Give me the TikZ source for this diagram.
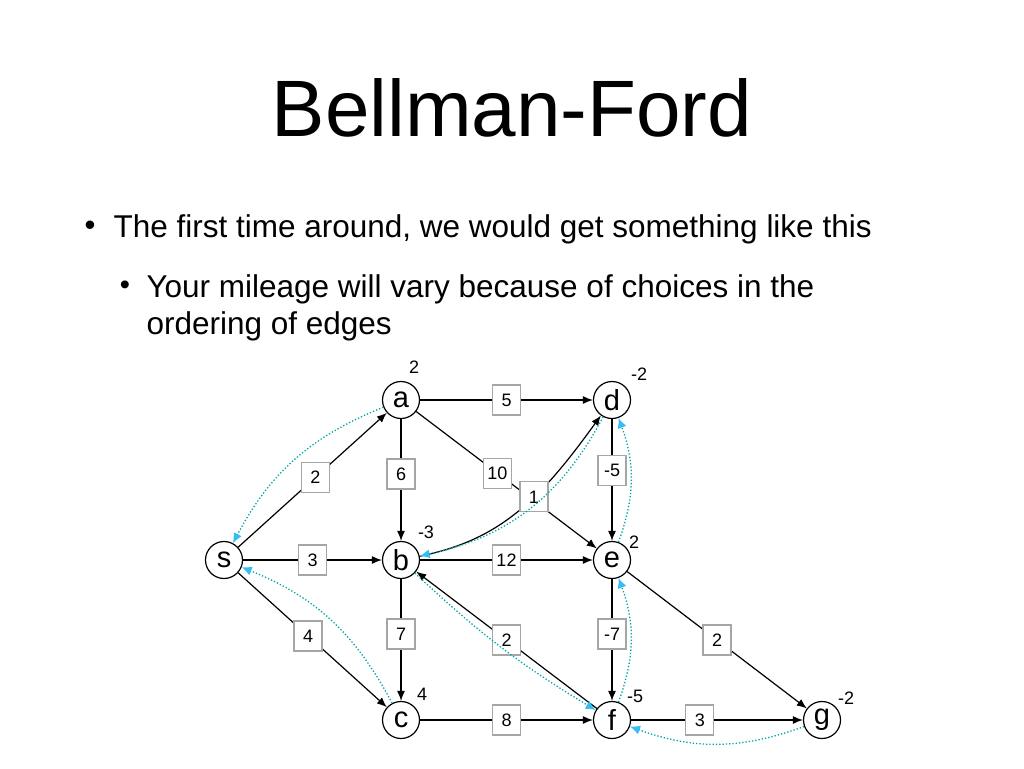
\documentclass[tikz,border=0pt]{standalone}
\usepackage{fontspec}
\setmainfont{Liberation Sans}
\usetikzlibrary{arrows.meta}
\begin{document}
\begin{tikzpicture}[x=1pt,y=-1pt,
  vx/.style={circle,draw,line width=1.2pt,minimum size=37pt,inner sep=0pt,font=\fontsize{29}{29}\selectfont,fill=white},
  wt/.style={draw=black!35,fill=white,minimum width=28pt,minimum height=30pt,inner sep=1pt,font=\fontsize{18}{18}\selectfont},
  ed/.style={line width=1.2pt,-{Latex[length=10pt,width=8pt]}},
  pr/.style={dotted,line width=1.3pt,draw=teal!70!cyan,arrows={-{Latex[length=10pt,width=9pt,color=cyan!80]}}},
  dl/.style={font=\fontsize{18}{18}\selectfont}]
\useasboundingbox (0,0) rectangle (1024,768);
\node[font=\fontsize{80}{80}\selectfont] (title) at (512,108) {Bellman-Ford};
\node[font=\fontsize{31}{31}\selectfont] (b1) at (90,228) {•};
\node[anchor=west,font=\fontsize{31.5}{31.5}\selectfont] (t1) at (110,229) {The first time around, we would get something like this};
\node[font=\fontsize{29}{29}\selectfont] (b2) at (125,288) {•};
\node[anchor=west,align=left,font=\fontsize{31.5}{37}\selectfont] (t2) at (143,308) {Your mileage will vary because of choices in the\\ordering of edges};
\node[vx] (a) at (401,400) {a};
\node[vx] (d) at (612,400) {d};
\node[vx] (s) at (224,560) {s};
\node[vx] (b) at (401,560) {b};
\node[vx] (e) at (612,560) {e};
\node[vx] (c) at (401,720) {c};
\node[vx] (f) at (612,720) {f};
\node[vx] (g) at (822,720) {g};
\node[dl] (la) at (414,367) {2};
\node[dl] (ld) at (639,374) {-2};
\node[dl] (lb) at (426,532) {-3};
\node[dl] (le) at (634,542) {2};
\node[dl] (lc) at (422,694) {4};
\node[dl] (lf) at (635,696) {-5};
\node[dl] (lg) at (846,698) {-2};
\draw[ed] (s) -- node[wt,pos=0.52]{2} (a);
\draw[ed] (s) -- node[wt]{3} (b);
\draw[ed] (s) -- node[wt,pos=0.47]{4} (c);
\draw[ed] (a) -- node[wt]{5} (d);
\draw[ed] (a) -- node[wt,pos=0.45]{6} (b);
\draw[ed] (a) -- node[wt,pos=0.45]{10} (e);
\draw[ed] (b) .. controls (500,540) and (540,500) .. node[wt,pos=0.6]{1} (d);
\draw[ed] (d) -- node[wt,pos=0.42]{-5} (e);
\draw[ed] (b) -- node[wt]{12} (e);
\draw[ed] (b) -- node[wt,pos=0.45]{7} (c);
\draw[ed] (c) -- node[wt]{8} (f);
\draw[ed] (f) -- node[wt]{2} (b);
\draw[ed] (e) -- node[wt,pos=0.45]{-7} (f);
\draw[ed] (e) -- node[wt]{2} (g);
\draw[ed] (f) -- node[wt,pos=0.4]{3} (g);
\draw[pr] (a) to[bend right=20] (s);
\draw[pr] (c) to[bend right=20] (s);
\draw[pr] (d) to[bend left=25] (b);
\draw[pr] (e) to[bend right=20] (d);
\draw[pr] (b) to[bend right=6] (f);
\draw[pr] (f) to[bend right=20] (e);
\draw[pr] (g) to[bend left=20] (f);
\end{tikzpicture}
\end{document}
